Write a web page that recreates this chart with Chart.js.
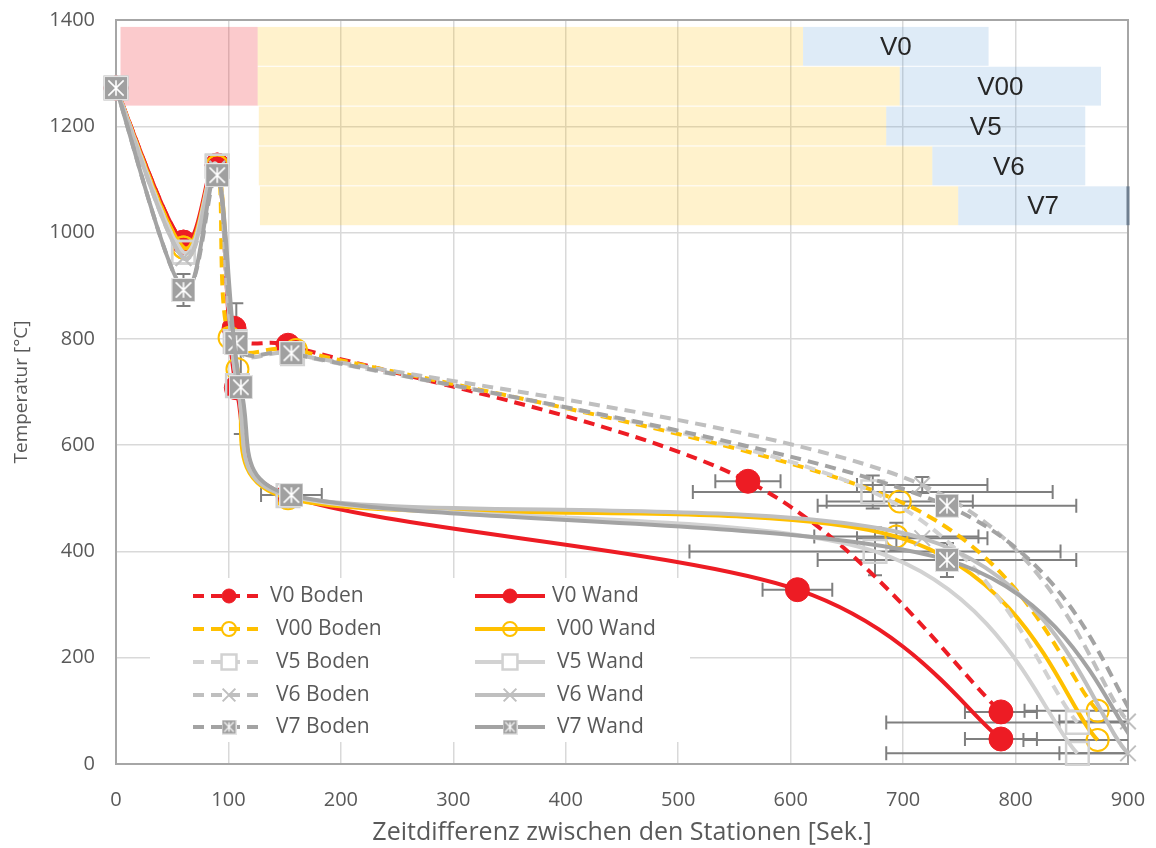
<!DOCTYPE html>
<html><head><meta charset="utf-8">
<script src="https://cdn.jsdelivr.net/npm/chart.js@4.4.0/dist/chart.umd.min.js"></script>
<style>html,body{margin:0;padding:0;background:#fff}#wrap{width:1156px;height:848px}</style>
</head><body><div id="wrap"><canvas id="c" width="1156" height="848"></canvas></div>
<script>
// ---------- data ----------
const xTitle = 'Zeitdifferenz zwischen den Stationen [Sek.]';
const yTitle = 'Temperatur [°C]';

const v0BodenX = [0, 60, 90, 105, 153, 562, 787];
const v0BodenY = [1272, 982, 1127, 820, 788, 532, 98];
const v0BodenXerr = [0, 0, 0, 0, 0, 29, 32];
const v0BodenYerr = [0, 0, 0, 0, 0, 0, 0];

const v0WandX = [0, 60, 90, 107, 153, 606, 787];
const v0WandY = [1272, 982, 1127, 708, 505, 328, 47];
const v0WandXerr = [0, 0, 0, 0, 0, 31, 32];
const v0WandYerr = [0, 0, 0, 0, 0, 0, 0];

const v00BodenX = [0, 60, 90, 101, 160, 697, 873];
const v00BodenY = [1272, 972, 1125, 802, 779, 494, 100];
const v00BodenXerr = [0, 0, 0, 0, 0, 65, 65];
const v00BodenYerr = [0, 0, 0, 0, 0, 0, 0];

const v00WandX = [0, 60, 90, 108, 153, 694, 873];
const v00WandY = [1272, 972, 1125, 743, 500, 428, 45];
const v00WandXerr = [0, 0, 0, 0, 0, 73, 66];
const v00WandYerr = [0, 0, 0, 0, 0, 26, 0];

const v5BodenX = [0, 60, 90, 106, 157, 673, 855];
const v5BodenY = [1272, 963, 1125, 795, 772, 512, 78];
const v5BodenXerr = [0, 0, 0, 0, 0, 160, 170];
const v5BodenYerr = [0, 0, 0, 0, 0, 31, 0];

const v5WandX = [0, 60, 90, 108, 153, 675, 855];
const v5WandY = [1272, 963, 1125, 712, 505, 400, 20];
const v5WandXerr = [0, 0, 0, 0, 0, 165, 170];
const v5WandYerr = [0, 0, 0, 0, 0, 45, 0];

const v6BodenX = [0, 60, 90, 106, 157, 717, 900];
const v6BodenY = [1272, 952, 1120, 790, 772, 525, 80];
const v6BodenXerr = [0, 0, 0, 0, 0, 58, 61];
const v6BodenYerr = [0, 0, 0, 0, 0, 15, 0];

const v6WandX = [0, 60, 90, 108, 153, 717, 900];
const v6WandY = [1272, 952, 1120, 712, 505, 425, 20];
const v6WandXerr = [0, 0, 0, 0, 0, 58, 61];
const v6WandYerr = [0, 0, 0, 0, 0, 0, 0];

const v7BodenX = [0, 60, 90, 107, 156, 739, 912];
const v7BodenY = [1272, 892, 1108, 792, 773, 486, 70];
const v7BodenXerr = [0, 0, 0, 0, 0, 115, 0];
const v7BodenYerr = [0, 30, 0, 75, 0, 0, 0];

const v7WandX = [0, 60, 90, 111, 156, 739, 912];
const v7WandY = [1272, 892, 1108, 709, 506, 384, 25];
const v7WandXerr = [0, 0, 0, 0, 27, 115, 0];
const v7WandYerr = [0, 0, 0, 88, 0, 32, 0];

// background phase boxes (seconds / °C)
const boxLabels = ['V0', 'V00', 'V5', 'V6', 'V7'];
const boxTop = [1387, 1312, 1237, 1162, 1087];
const boxBottom = [1312, 1237, 1162, 1087, 1012];
const yellowStart = [126, 126, 127, 127, 128];
const blueStart = [611, 697, 685, 726, 749];
const blueEnd = [776, 876, 862, 862, 900];
const pinkX = [4, 126];
const pinkY = [1237, 1387];

const xTicks = [0, 100, 200, 300, 400, 500, 600, 700, 800, 900];
const yTicks = [0, 200, 400, 600, 800, 1000, 1200, 1400];

// ---------- styles ----------
const RED = '#ed1c24', YEL = '#ffc000', G5 = '#d2d2d2', G6 = '#bfbfbf', G7 = '#a3a3a3';
const FONT = 'Open Sans';
const TXT = '#595959';
const DASH = [11, 7];

function boxMarker(size) {
  const c = document.createElement('canvas');
  c.width = size; c.height = size;
  const g = c.getContext('2d');
  g.fillStyle = '#a0a0a0'; g.fillRect(0, 0, size, size);
  g.strokeStyle = '#e4e4e4'; g.lineWidth = 1; g.strokeRect(0.5, 0.5, size - 1, size - 1);
  g.strokeStyle = '#ffffff'; g.lineWidth = size > 16 ? 1.6 : 1.2;
  const m = size * 0.18;
  g.beginPath();
  g.moveTo(m, m); g.lineTo(size - m, size - m);
  g.moveTo(size - m, m); g.lineTo(m, size - m);
  g.moveTo(size / 2, m); g.lineTo(size / 2, size - m);
  g.stroke();
  return c;
}
const bigBox = boxMarker(24), smallBox = boxMarker(15);

const styles = {
  V0: { color: RED, pointStyle: 'circle', r: 12, bg: RED, pb: RED, pw: 1, lr: 7 },
  V00: { color: YEL, pointStyle: 'circle', r: 11, bg: 'rgba(0,0,0,0)', pb: YEL, pw: 2, lr: 7 },
  V5: { color: G5, pointStyle: 'rect', r: 16, bg: 'rgba(0,0,0,0)', pb: G5, pw: 2.5, lr: 10.5 },
  V6: { color: G6, pointStyle: 'crossRot', r: 11, bg: 'rgba(0,0,0,0)', pb: G6, pw: 2, lr: 9 },
  V7: { color: G7, pointStyle: bigBox, r: 12, bg: G7, pb: G7, pw: 1, lr: 7, small: smallBox }
};

const seriesDefs = [
  ['V0 Boden', 'V0', true, v0BodenX, v0BodenY, v0BodenXerr, v0BodenYerr, 10],
  ['V0 Wand', 'V0', false, v0WandX, v0WandY, v0WandXerr, v0WandYerr, 9],
  ['V00 Boden', 'V00', true, v00BodenX, v00BodenY, v00BodenXerr, v00BodenYerr, 8],
  ['V00 Wand', 'V00', false, v00WandX, v00WandY, v00WandXerr, v00WandYerr, 7],
  ['V5 Boden', 'V5', true, v5BodenX, v5BodenY, v5BodenXerr, v5BodenYerr, 6],
  ['V5 Wand', 'V5', false, v5WandX, v5WandY, v5WandXerr, v5WandYerr, 5],
  ['V6 Boden', 'V6', true, v6BodenX, v6BodenY, v6BodenXerr, v6BodenYerr, 4],
  ['V6 Wand', 'V6', false, v6WandX, v6WandY, v6WandXerr, v6WandYerr, 3],
  ['V7 Boden', 'V7', true, v7BodenX, v7BodenY, v7BodenXerr, v7BodenYerr, 2],
  ['V7 Wand', 'V7', false, v7WandX, v7WandY, v7WandXerr, v7WandYerr, 1]
];

const datasets = seriesDefs.map(([label, key, dashed, xs, ys, xe, ye, order]) => {
  const s = styles[key];
  return {
    label, order,
    data: xs.map((x, i) => ({ x, y: ys[i] })),
    xerr: xe, yerr: ye, seriesKey: key, dashed,
    fill: false,
    borderColor: s.color, borderWidth: 4,
    borderDash: dashed ? DASH : [],
    tension: 0.0001,
    pointStyle: s.pointStyle, pointRadius: s.r,
    pointBackgroundColor: s.bg, pointBorderColor: s.pb, pointBorderWidth: s.pw,
    pointHoverRadius: s.r,
    clip: key === 'V7' ? { left: 16, top: 16, right: 0, bottom: 0 } : { left: 16, top: 16, right: 14, bottom: 14 }
  };
});

// ---------- plugin: spreadsheet-style smoothing (control points in pixel space) ----------
const smoothing = {
  id: 'smoothing',
  beforeDatasetDraw(chart, args) {
    const meta = args.meta;
    const line = meta.dataset;
    if (!line) return;
    line.updateControlPoints(chart.chartArea, 'x');
    const pts = meta.data;
    const n = pts.length;
    const P = i => pts[Math.max(0, Math.min(n - 1, i))];
    for (let i = 0; i < n - 1; i++) {
      const p0 = P(i - 1), p1 = P(i), p2 = P(i + 1), p3 = P(i + 2);
      const d = Math.hypot(p2.x - p1.x, p2.y - p1.y);
      const ax = p2.x - p0.x, ay = p2.y - p0.y, la = Math.hypot(ax, ay);
      const arm1 = Math.min(la / 6, d / 2);
      const bx = p3.x - p1.x, by = p3.y - p1.y, lb = Math.hypot(bx, by);
      const arm2 = Math.min(lb / 6, d / 2);
      p1.cp2x = la ? p1.x + ax / la * arm1 : p1.x;
      p1.cp2y = la ? p1.y + ay / la * arm1 : p1.y;
      p2.cp1x = lb ? p2.x - bx / lb * arm2 : p2.x;
      p2.cp1y = lb ? p2.y - by / lb * arm2 : p2.y;
    }
    line._path = undefined;
  }
};

// ---------- plugin: background boxes, frame, legend, error bars ----------
const decor = {
  id: 'decor',
  beforeDatasetsDraw(chart) {
    const { ctx, chartArea: a, scales: { x, y } } = chart;
    ctx.save();
    ctx.fillStyle = 'rgba(237,28,36,0.23)';
    ctx.fillRect(x.getPixelForValue(pinkX[0]), y.getPixelForValue(pinkY[1]),
      x.getPixelForValue(pinkX[1]) - x.getPixelForValue(pinkX[0]),
      y.getPixelForValue(pinkY[0]) - y.getPixelForValue(pinkY[1]) - 1);
    for (let i = 0; i < boxLabels.length; i++) {
      const top = y.getPixelForValue(boxTop[i]);
      const bot = y.getPixelForValue(boxBottom[i]) - 1;
      const bs = x.getPixelForValue(blueStart[i]);
      const be = x.getPixelForValue(blueEnd[i]);
      const ys0 = i >= 2 ? x.getPixelForValue(yellowStart[i]) : x.getPixelForValue(pinkX[1]);
      ctx.fillStyle = 'rgba(255,192,0,0.2)';
      ctx.fillRect(ys0, top, bs - ys0, bot - top);
      ctx.fillStyle = 'rgba(91,155,213,0.2)';
      ctx.fillRect(bs, top, be - bs, bot - top);
    }
    ctx.strokeStyle = '#a6a6a6';
    ctx.lineWidth = 2;
    ctx.strokeRect(a.left, a.top, a.right - a.left, a.bottom - a.top);
    ctx.strokeStyle = '#6f7f90';
    ctx.lineWidth = 3;
    ctx.beginPath();
    ctx.moveTo(x.getPixelForValue(blueEnd[4]), y.getPixelForValue(boxTop[4]));
    ctx.lineTo(x.getPixelForValue(blueEnd[4]), y.getPixelForValue(boxBottom[4]) - 1);
    ctx.stroke();
    ctx.fillStyle = '#262626';
    ctx.font = '26px "Liberation Sans", Arial, sans-serif';
    ctx.textAlign = 'center';
    ctx.textBaseline = 'middle';
    for (let i = 0; i < boxLabels.length; i++) {
      const cx = (x.getPixelForValue(blueStart[i]) + x.getPixelForValue(blueEnd[i])) / 2;
      const cy = (y.getPixelForValue(boxTop[i]) + y.getPixelForValue(boxBottom[i])) / 2 + 1;
      ctx.fillText(boxLabels[i], cx, cy);
    }
    // legend panel
    ctx.fillStyle = '#ffffff';
    ctx.fillRect(150, 578, 540, 164);
    const rowsY = [596, 629, 662, 695, 727];
    const colLine = [[193, 265], [475, 545]];
    const colText = [[270, 276, 276, 276, 276], [552, 557, 557, 557, 557]];
    chart.data.datasets.forEach((ds, idx) => {
      const row = Math.floor(idx / 2), col = idx % 2;
      const s = styles[ds.seriesKey];
      const ly = rowsY[row];
      const [l0, l1] = colLine[col];
      ctx.save();
      ctx.strokeStyle = s.color; ctx.lineWidth = 4;
      ctx.setLineDash(ds.dashed ? DASH : []);
      ctx.beginPath(); ctx.moveTo(l0, ly); ctx.lineTo(l1, ly); ctx.stroke();
      ctx.restore();
      const mx = (l0 + l1) / 2;
      if (ds.seriesKey === 'V7') {
        ctx.drawImage(s.small, mx - 7.5, ly - 7.5);
      } else {
        ctx.save();
        if (ds.seriesKey === 'V5') { ctx.fillStyle = '#fff'; ctx.fillRect(mx - 7, ly - 7, 14, 14); }
        ctx.fillStyle = s.bg; ctx.strokeStyle = s.pb; ctx.lineWidth = s.pw;
        Chart.helpers.drawPoint(ctx, { pointStyle: s.pointStyle, radius: s.lr, rotation: 0, borderWidth: s.pw }, mx, ly);
        ctx.restore();
      }
      ctx.fillStyle = TXT;
      ctx.font = '21px "' + FONT + '"';
      ctx.textAlign = 'left';
      ctx.textBaseline = 'middle';
      ctx.fillText(ds.label, colText[col][row], ly);
    });
    // error bars
    ctx.beginPath();
    ctx.rect(a.left, a.top - 20, a.right - a.left, a.bottom - a.top + 30);
    ctx.clip();
    ctx.strokeStyle = '#7f7f7f';
    ctx.lineWidth = 2;
    chart.data.datasets.forEach(ds => {
      ds.data.forEach((p, i) => {
        const px = x.getPixelForValue(p.x), py = y.getPixelForValue(p.y);
        const xe = ds.xerr[i], ye = ds.yerr[i];
        ctx.beginPath();
        if (xe) {
          const x1 = x.getPixelForValue(p.x - xe), x2 = x.getPixelForValue(p.x + xe);
          ctx.moveTo(x1, py); ctx.lineTo(x2, py);
          ctx.moveTo(x1, py - 7); ctx.lineTo(x1, py + 7);
          ctx.moveTo(x2, py - 7); ctx.lineTo(x2, py + 7);
        }
        if (ye) {
          const y1 = y.getPixelForValue(p.y - ye), y2 = y.getPixelForValue(p.y + ye);
          ctx.moveTo(px, y1); ctx.lineTo(px, y2);
          ctx.moveTo(px - 7, y1); ctx.lineTo(px + 7, y1);
          ctx.moveTo(px - 7, y2); ctx.lineTo(px + 7, y2);
        }
        ctx.stroke();
      });
    });
    ctx.restore();
  }
};

// ---------- chart ----------
new Chart(document.getElementById('c').getContext('2d'), {
  type: 'line',
  data: { datasets },
  options: {
    responsive: false, animation: false, devicePixelRatio: 1,
    events: [],
    layout: { padding: { top: 20, right: 28, left: 0, bottom: 0 } },
    plugins: { legend: { display: false }, tooltip: { enabled: false } },
    scales: {
      x: {
        type: 'linear', min: 0, max: 900,
        afterBuildTicks(s) { s.ticks = xTicks.map(v => ({ value: v })); },
        afterFit(s) { s.height = 84; s.paddingLeft = 0; s.paddingRight = 0; },
        ticks: { padding: 24, color: TXT, font: { family: FONT, size: 20 }, callback: v => String(v) },
        grid: { color: '#d9d9d9', lineWidth: 1.5, drawTicks: false },
        border: { display: false },
        title: { display: true, text: xTitle, color: TXT, font: { family: FONT, size: 25 }, padding: { top: 0, bottom: 0 } }
      },
      y: {
        type: 'linear', min: 0, max: 1400,
        afterBuildTicks(s) { s.ticks = yTicks.map(v => ({ value: v })); },
        afterFit(s) { s.width = 116; s.paddingTop = 0; s.paddingBottom = 0; },
        ticks: { padding: 21, color: TXT, font: { family: FONT, size: 20 }, callback: v => String(v) },
        grid: { color: '#d9d9d9', lineWidth: 1.5, drawTicks: false },
        border: { display: false },
        title: { display: true, text: yTitle, color: TXT, font: { family: FONT, size: 19 }, padding: { top: 10, bottom: 0 } }
      }
    }
  },
  plugins: [smoothing, decor]
});
</script>
</body></html>
